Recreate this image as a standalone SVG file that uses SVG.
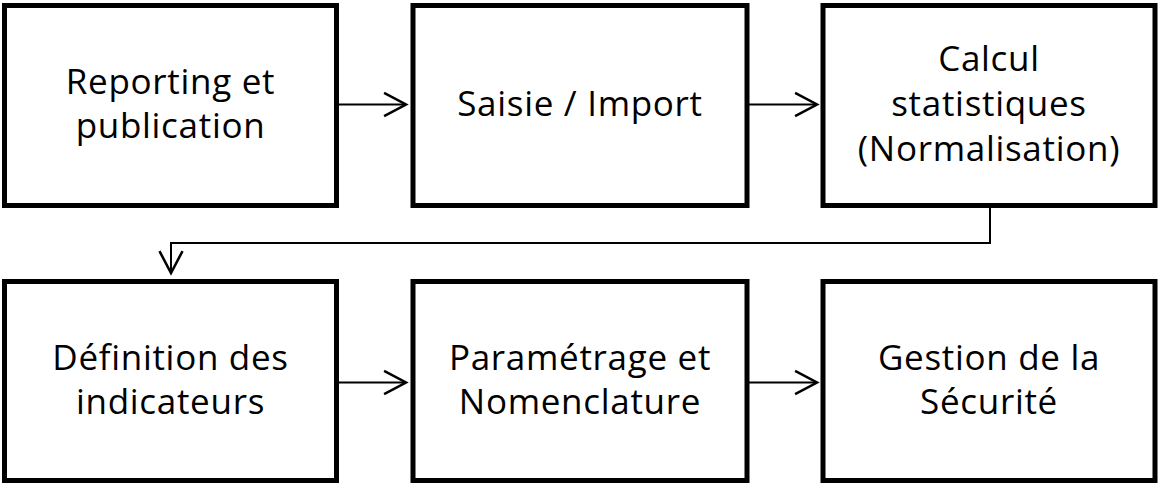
<svg xmlns="http://www.w3.org/2000/svg" width="1158" height="485" viewBox="0 0 1158 485">
  <style>
    .box { fill: #ffffff; stroke: #000000; stroke-width: 5; }
    .label { font-family: "Open Sans", "Noto Sans", sans-serif; font-size: 35px; letter-spacing: 0.7px; fill: #000000; text-anchor: middle; }
    .conn { fill: none; stroke: #000000; stroke-width: 2; }
  </style>
  <defs>
    <marker id="arrow" markerUnits="userSpaceOnUse" markerWidth="30" markerHeight="30" viewBox="-22 -13 26 26" refX="0" refY="0" orient="auto">
      <path d="M -19 -10 L 0 0 L -19 10" fill="none" stroke="#000000" stroke-width="2.2"/>
    </marker>
  </defs>
  <rect width="1158" height="485" fill="#ffffff"/>

  <!-- top row -->
  <g id="reporting">
    <rect class="box" x="4.5" y="5.5" width="332" height="200"/>
    <text class="label" x="170.5" y="94">Reporting et</text>
    <text class="label" x="170.5" y="138">publication</text>
  </g>
  <g id="saisie">
    <rect class="box" x="413" y="5.5" width="334" height="200"/>
    <text class="label" x="580" y="116">Saisie / Import</text>
  </g>
  <g id="calcul">
    <rect class="box" x="823" y="5.5" width="332" height="200"/>
    <text class="label" x="989" y="71">Calcul</text>
    <text class="label" x="989" y="116">statistiques</text>
    <text class="label" x="989" y="161">(Normalisation)</text>
  </g>

  <!-- bottom row -->
  <g id="definition">
    <rect class="box" x="4.5" y="281.5" width="332" height="199"/>
    <text class="label" x="170.5" y="370">Définition des</text>
    <text class="label" x="170.5" y="414">indicateurs</text>
  </g>
  <g id="parametrage">
    <rect class="box" x="413" y="281.5" width="334" height="199"/>
    <text class="label" x="580" y="370">Paramétrage et</text>
    <text class="label" x="580" y="414">Nomenclature</text>
  </g>
  <g id="securite">
    <rect class="box" x="823" y="281.5" width="332" height="199"/>
    <text class="label" x="989" y="370">Gestion de la</text>
    <text class="label" x="989" y="414">Sécurité</text>
  </g>

  <!-- connectors -->
  <g id="connectors">
    <path class="conn" d="M 339 104.5 L 406 104.5" marker-end="url(#arrow)"/>
    <path class="conn" d="M 749 104.5 L 817 104.5" marker-end="url(#arrow)"/>
    <path class="conn" d="M 990 208 L 990 243 L 171 243 L 171 273" marker-end="url(#arrow)"/>
    <path class="conn" d="M 339 382.5 L 406 382.5" marker-end="url(#arrow)"/>
    <path class="conn" d="M 749 382.5 L 817 382.5" marker-end="url(#arrow)"/>
  </g>
</svg>
